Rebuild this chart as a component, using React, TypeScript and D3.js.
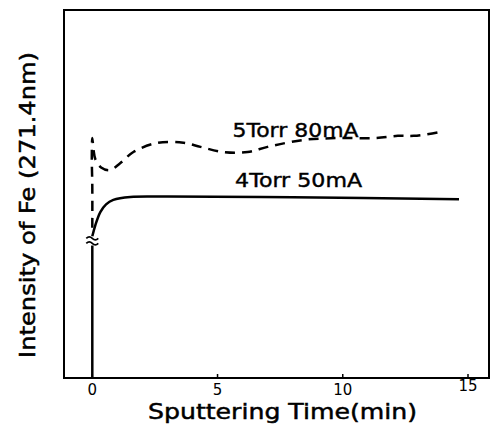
import * as d3 from "d3";

// Sputtering time (min) and Fe 271.4 nm intensity (arbitrary units, 0-100)
const X_TICKS = [0, 5, 10, 15];

const SOLID_STEM_T = [0, 0];
const SOLID_STEM_V = [0, 36];
const SOLID_T = [0, 0.12, 0.32, 0.55, 0.84, 1.52, 3, 8, 14.64];
const SOLID_V = [38.5, 41.5, 45.1, 47.2, 48.4, 49.2, 49.3, 49.1, 48.6];

const DASHED_T = [0, 0, -0.02, 0, 0.05, 0.12, 0.35, 0.7, 1.1, 1.64, 2.6, 3.64, 4.32, 5.24, 6.2, 7.0, 8.44, 9.8, 11.32, 12.2, 12.84, 13.84, 14.04];
const DASHED_V = [40.8, 52, 60, 65.2, 62, 59.5, 57.2, 56.5, 58.3, 61.4, 63.9, 63.9, 62.8, 61.4, 61.4, 62.8, 64.7, 65.2, 65.2, 65.8, 65.8, 66.8, 67.1];

const BREAK_V = 37.4;

const LABEL_DASHED = "5Torr 80mA";
const LABEL_SOLID = "4Torr 50mA";
const X_TITLE = "Sputtering Time(min)";
const Y_TITLE = "Intensity of Fe (271.4nm)";

const W = 491;
const H = 426;
const FRAME = { left: 64, top: 10, right: 489, bottom: 378 };
const FONT = "'DejaVu Sans', sans-serif";

export default function App() {
  const x = d3.scaleLinear().domain([0, 15]).range([92.3, 468]);
  const y = d3.scaleLinear().domain([0, 100]).range([FRAME.bottom, FRAME.top]);

  const zip = (ts: number[], vs: number[]) => ts.map((t, i) => [t, vs[i]] as [number, number]);

  const straight = d3.line<[number, number]>()
    .x((d) => x(d[0]))
    .y((d) => y(d[1]));
  const smooth = d3.line<[number, number]>()
    .x((d) => x(d[0]))
    .y((d) => y(d[1]))
    .curve(d3.curveCatmullRom.alpha(0.5));

  const bx = x(0);
  const by = y(BREAK_V);

  return (
    <svg width={W} height={H} style={{ position: "absolute", left: 0, top: 0, background: "#fff" }}>
      {/* frame */}
      <rect
        x={FRAME.left}
        y={FRAME.top}
        width={FRAME.right - FRAME.left}
        height={FRAME.bottom - FRAME.top}
        fill="none"
        stroke="#000"
        strokeWidth={2}
      />

      {/* x ticks */}
      {X_TICKS.map((t) => (
        <g key={t}>
          <line x1={x(t)} x2={x(t)} y1={FRAME.bottom} y2={FRAME.bottom - 4} stroke="#000" strokeWidth={1.5} />
          <text x={x(t)} y={t === 15 ? 391 : 395} textAnchor="middle" fontFamily={FONT} fontSize={15}>
            {t}
          </text>
        </g>
      ))}

      {/* solid series: stem, break mark, curve */}
      <path d={straight(zip(SOLID_STEM_T, SOLID_STEM_V)) ?? ""} fill="none" stroke="#000" strokeWidth={2.5} />
      <path
        d={`M${bx - 6},${by - 2} q3,-3 6,0 t6,0 M${bx - 6},${by + 3} q3,-3 6,0 t6,0`}
        fill="none"
        stroke="#000"
        strokeWidth={1.8}
      />
      <path d={smooth(zip(SOLID_T, SOLID_V)) ?? ""} fill="none" stroke="#000" strokeWidth={2.5} />

      {/* dashed series */}
      <path
        d={smooth(zip(DASHED_T, DASHED_V)) ?? ""}
        fill="none"
        stroke="#000"
        strokeWidth={2.5}
        strokeDasharray="10,7"
      />

      {/* annotations */}
      <text x={x(5.6)} y={y(65.5)} fontFamily={FONT} fontSize={20} stroke="#000" strokeWidth={0.4} textLength={126} lengthAdjust="spacingAndGlyphs">
        {LABEL_DASHED}
      </text>
      <text x={x(5.7)} y={y(51.9)} fontFamily={FONT} fontSize={19} stroke="#000" strokeWidth={0.4} textLength={127} lengthAdjust="spacingAndGlyphs">
        {LABEL_SOLID}
      </text>

      {/* axis titles */}
      <text x={282.5} y={419} textAnchor="middle" fontFamily={FONT} fontSize={22} stroke="#000" strokeWidth={0.5} textLength={269} lengthAdjust="spacingAndGlyphs">
        {X_TITLE}
      </text>
      <text
        transform="translate(35,205) rotate(-90)"
        textAnchor="middle"
        fontFamily={FONT}
        fontSize={21}
        stroke="#000"
        strokeWidth={0.5}
        textLength={306}
        lengthAdjust="spacingAndGlyphs"
      >
        {Y_TITLE}
      </text>
    </svg>
  );
}
